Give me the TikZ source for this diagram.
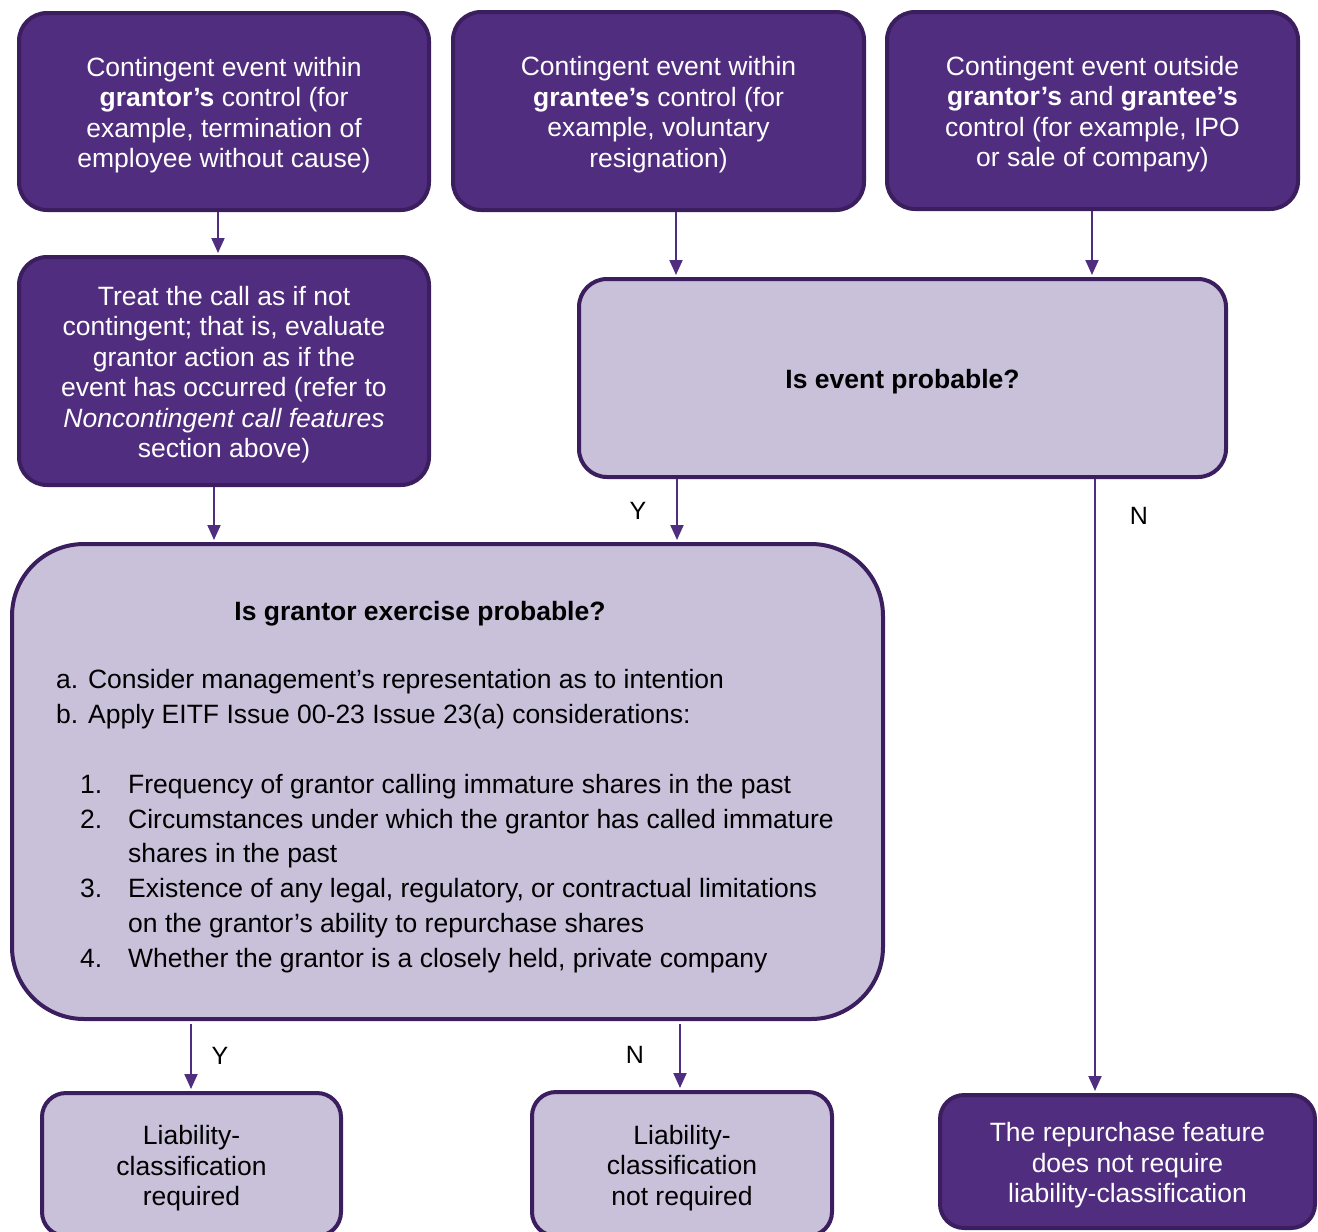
\documentclass[tikz,border=0pt]{standalone}
\usepackage{fontspec}
\setmainfont{Liberation Sans}
\usetikzlibrary{arrows.meta}
\definecolor{dkfill}{RGB}{81,45,127}
\definecolor{bordercol}{RGB}{58,30,94}
\definecolor{ltfill}{RGB}{201,192,217}
\definecolor{arrcol}{RGB}{79,45,127}
\newcommand\tstrut{\rule{0pt}{26.5pt}}
\begin{document}
\begin{tikzpicture}[x=1pt,y=-1pt,
  box/.style={rounded corners=28pt, line width=4pt, draw=bordercol, align=center, inner sep=0pt,
    font=\fontsize{26.5}{30.5}\selectfont},
  dark/.style={box, fill=dkfill, text=white},
  light/.style={box, fill=ltfill, text=black},
  arr/.style={draw=arrcol, line width=2pt, -{Triangle[width=13pt,length=15pt]}, shorten >=2pt},
  lbl/.style={font=\fontsize{25}{30}\selectfont, inner sep=0pt},
  ftext/.style={font=\fontsize{26.5}{30.5}\selectfont, inner sep=0pt, anchor=base west}
]
\useasboundingbox (0,0) rectangle (1318,1232);
\clip (0,0) rectangle (1318,1232);

\node[dark, minimum width=410pt, minimum height=197pt] (A) at (224,111.5)
  {\tstrut Contingent event within\\\textbf{grantor’s} control (for\\example, termination of\\employee without cause)};
\node[dark, minimum width=411pt, minimum height=198pt] (B) at (658.5,111)
  {\tstrut Contingent event within\\\textbf{grantee’s} control (for\\example, voluntary\\resignation)};
\node[dark, minimum width=411pt, minimum height=197pt] (C) at (1092.5,110.5)
  {\tstrut Contingent event outside\\\textbf{grantor’s} and \textbf{grantee’s}\\control (for example, IPO\\or sale of company)};
\node[dark, minimum width=410pt, minimum height=228pt] (D) at (224,371)
  {\tstrut Treat the call as if not\\contingent; that is, evaluate\\grantor action as if the\\event has occurred (refer to\\\textit{Noncontingent call features}\\section above)};
\node[light, minimum width=647pt, minimum height=198pt] (E) at (902.5,378)
  {\tstrut\textbf{Is event probable?}};
\node[light, rounded corners=72pt, minimum width=871pt, minimum height=475pt] (F) at (447.5,781.5) {};
\node[light, rounded corners=24pt, minimum width=299pt, minimum height=143pt] (G) at (191.5,1164.5)
  {\tstrut Liability-\\classification\\required};
\node[light, rounded corners=24pt, minimum width=300pt, minimum height=144pt] (H) at (682,1164)
  {\tstrut Liability-\\classification\\not required};
\node[dark, rounded corners=24pt, minimum width=375pt, minimum height=133pt] (I) at (1127.5,1161.5)
  {\tstrut The repurchase feature\\does not require\\liability-classification};

% text inside F
\node[ftext, anchor=base] (ft) at (420,620) {\textbf{Is grantor exercise probable?}};
\node[ftext] (fa) at (56,688) {a. Consider management’s representation as to intention};
\node[ftext] (fb) at (56,723) {b. Apply EITF Issue 00-23 Issue 23(a) considerations:};
\node[ftext] (n1) at (80,793) {1.};
\node[ftext] (t1) at (128,793) {Frequency of grantor calling immature shares in the past};
\node[ftext] (n2) at (80,828) {2.};
\node[ftext] (t2) at (128,828) {Circumstances under which the grantor has called immature};
\node[ftext] (t2b) at (128,862) {shares in the past};
\node[ftext] (n3) at (80,897) {3.};
\node[ftext] (t3) at (128,897) {Existence of any legal, regulatory, or contractual limitations};
\node[ftext] (t3b) at (128,932) {on the grantor’s ability to repurchase shares};
\node[ftext] (n4) at (80,967) {4.};
\node[ftext] (t4) at (128,967) {Whether the grantor is a closely held, private company};

% connectors
\draw[arr] ([xshift=-6pt]A.south) -- ([xshift=-6pt]A.south |- D.north);
\draw[arr] ([xshift=17.5pt]B.south) -- ([xshift=17.5pt]B.south |- E.north);
\draw[arr] ([xshift=-0.5pt]C.south) -- ([xshift=-0.5pt]C.south |- E.north);
\draw[arr] ([xshift=-10pt]D.south) -- ([xshift=-10pt]D.south |- F.north);
\draw[arr] ([xshift=-225.5pt]E.south) -- ([xshift=-225.5pt]E.south |- F.north);
\draw[arr] ([xshift=192.5pt]E.south) -- ([xshift=192.5pt]E.south |- I.north);
\draw[arr, shorten <=3pt] ([xshift=-0.5pt]G.north |- F.south) -- ([xshift=-0.5pt]G.north);
\draw[arr, shorten <=3pt] ([xshift=-2pt]H.north |- F.south) -- ([xshift=-2pt]H.north);

% labels
\node[lbl] (yE) at (638,511) {Y};
\node[lbl] (nE) at (1139,516) {N};
\node[lbl] (yF) at (220,1056) {Y};
\node[lbl] (nF) at (635,1055) {N};
\end{tikzpicture}
\end{document}
